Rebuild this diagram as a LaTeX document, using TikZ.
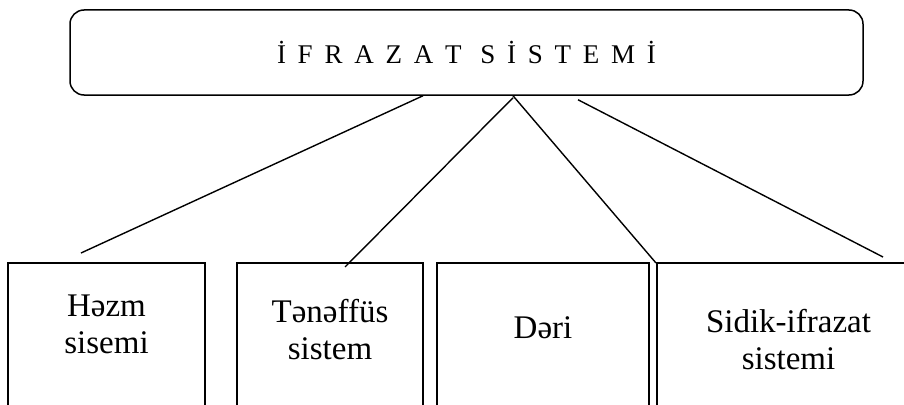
\documentclass[tikz,border=0pt]{standalone}
\usepackage{fontspec}
\setmainfont{Liberation Serif}
\usetikzlibrary{positioning}
\tikzset{
	head/.style={draw, rectangle, rounded corners=14pt, line width=1.5pt, minimum width=793pt, minimum height=85pt, inner sep=0pt, font=\fontsize{27}{31}\selectfont},
	organ/.style={draw, rectangle, line width=1.4pt, inner sep=0pt},
	organtext/.style={align=center, inner sep=0pt, font=\fontsize{33}{37}\selectfont},
	link/.style={line width=1.4pt},
}

\begin{document}
\begin{tikzpicture}[x=1pt, y=-1pt]
	\useasboundingbox (0,0) rectangle (904,404);
	
	\node (head) [head] at (466.5,52.5) {\makebox[379pt][s]{İ\hfil F\hfil R\hfil A\hfil Z\hfil A\hfil T\hskip 0pt plus 1.6fil S\hfil İ\hfil S\hfil T\hfil E\hfil M\hfil İ}};
	
	% bottom boxes run off the page
	\node (hezm) [organ, minimum width=197pt, minimum height=167pt] at (106.5,346.5) {};
	\node (tenef) [organ, minimum width=186pt, minimum height=167pt] at (330,346.5) {};
	\node (deri) [organ, minimum width=212pt, minimum height=167pt] at (543,346.5) {};
	\node (sidik) [organ, minimum width=263pt, minimum height=167pt] at (788.5,346.5) {};
	
	\node (hezmtxt) [organtext, below=32pt of hezm.north] {Həzm\\sisemi};
	\node (teneftxt) [organtext, below=37pt of tenef.north] {Tənəffüs\\sistem};
	\node (deritxt) [organtext, below=54pt of deri.north] {Dəri};
	\node (sidiktxt) [organtext, below=47pt of sidik.north] {Sidik-ifrazat\\sistemi};
	
	\coordinate (hezmend) at (81,253);
	\coordinate (tenefend) at (345,267);
	\coordinate (deriend) at (656,263);
	\coordinate (sidikend) at (883,257);
	
	\begin{scope}[link]
		\draw ([xshift=-43.5pt]head.south) -- (hezmend);
		\draw ([xshift=46.5pt, yshift=-2pt]head.south) -- (tenefend);
		\draw ([xshift=46.5pt]head.south) -- (deriend);
		\draw ([xshift=111.5pt, yshift=-4pt]head.south) -- (sidikend);
	\end{scope}
\end{tikzpicture}
\end{document}
